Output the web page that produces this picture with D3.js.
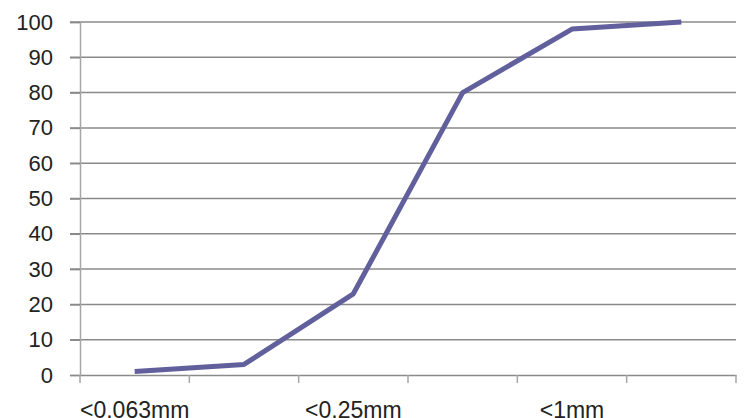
<!DOCTYPE html>
<html>
<head>
<meta charset="utf-8">
<script src="https://cdn.jsdelivr.net/npm/d3@7"></script>
<style>
body { margin: 0; background: #fff; }
svg text { font-family: "Liberation Sans", Arial, sans-serif; fill: #222; }
</style>
</head>
<body>
<svg width="745" height="418"></svg>
<script>
const categories = ["<0.063mm", "<0.125mm", "<0.25mm", "<0.5mm", "<1mm", "<2mm"];
const values = [1, 3, 23, 80, 98, 100];
const shownLabels = ["<0.063mm", "<0.25mm", "<1mm"];
const yTicks = [0, 10, 20, 30, 40, 50, 60, 70, 80, 90, 100];

const svg = d3.select("svg");
const margin = {left: 80, right: 9, top: 22, bottom: 43};
const width = 745 - margin.left - margin.right,
    height = 418 - margin.top - margin.bottom;

const x = d3.scaleBand().domain(categories).range([margin.left, margin.left + width]);
const y = d3.scaleLinear().domain([0, 100]).range([margin.top + height, margin.top]);

// gridlines
svg.append("g")
    .selectAll("line")
    .data(yTicks.filter(d => d > 0))
    .enter().append("line")
    .attr("x1", margin.left - 10)
    .attr("x2", margin.left + width)
    .attr("y1", d => y(d))
    .attr("y2", d => y(d))
    .attr("stroke", "#8a8a8a")
    .attr("stroke-width", 1.5);

// y axis
const yAxis = svg.append("g")
    .attr("transform", "translate(" + margin.left + ",0)")
    .call(d3.axisLeft(y).tickValues(yTicks).tickSize(10).tickPadding(17));
yAxis.select(".domain").attr("stroke", "#a6a6a6").attr("stroke-width", 1.5);
yAxis.selectAll(".tick line").attr("stroke", "#8a8a8a").attr("stroke-width", 1.5);
yAxis.selectAll("text").style("font-size", "22px").attr("fill", "#222");

// x axis
const xAxis = svg.append("g")
    .attr("transform", "translate(0," + (margin.top + height) + ")")
    .call(d3.axisBottom(x).tickSize(0).tickFormat(d => shownLabels.includes(d) ? d : ""));
xAxis.select(".domain").attr("stroke", "#8a8a8a").attr("stroke-width", 1.5);
xAxis.selectAll("text").style("font-size", "23px").attr("fill", "#222")
    .attr("y", 27).attr("dy", "0.71em");

// x tick marks between bands
const bounds = categories.map(c => x(c)).concat([x(categories[categories.length - 1]) + x.bandwidth()]);
svg.append("g")
    .selectAll("line")
    .data(bounds)
    .enter().append("line")
    .attr("x1", d => d)
    .attr("x2", d => d)
    .attr("y1", margin.top + height)
    .attr("y2", margin.top + height + 8)
    .attr("stroke", "#a6a6a6")
    .attr("stroke-width", 1.5);

// series line
const line = d3.line()
    .x((d, i) => x(categories[i]) + x.bandwidth() / 2)
    .y(d => y(d));

svg.append("path")
    .datum(values)
    .attr("d", line)
    .attr("fill", "none")
    .attr("stroke", "#62609c")
    .attr("stroke-width", 5)
    .attr("stroke-linejoin", "round");
</script>
</body>
</html>
